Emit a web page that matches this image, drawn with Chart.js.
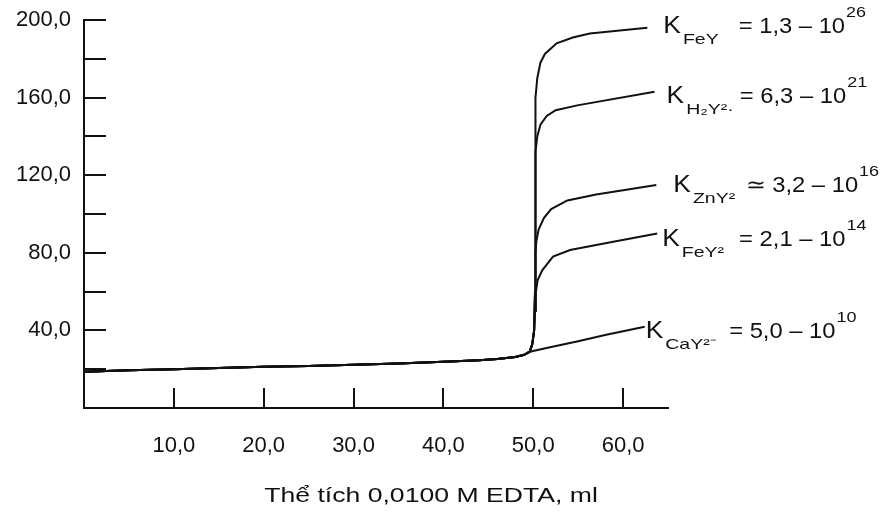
<!DOCTYPE html>
<html>
<head>
<meta charset="utf-8">
<script src="https://cdn.jsdelivr.net/npm/chart.js@4"></script>
<style>
  html, body { margin: 0; padding: 0; background: #fff; }
  #wrap { width: 891px; height: 515px; }
</style>
</head>
<body>
<div id="wrap"><canvas id="chart"></canvas></div>
<script>
// Phần chung trước điểm tương đương (thể tích EDTA, ml)
const preVol = [0, 5, 10, 15, 20, 25, 30, 35, 40, 44, 46, 48, 49, 49.6];
const preVal = [18.7, 19.4, 20, 20.6, 21.2, 21.7, 22.3, 23, 23.8, 24.6, 25.2, 26.3, 27.4, 29];

// Đoạn sau điểm tương đương cho từng phức chất
const feYVol = [49.9, 50.1, 50.2, 50.2, 50.25, 50.3, 50.45, 50.8, 51.3, 52.6, 54.4, 56.3, 62.7];
const feYVal = [33, 40, 60, 100, 140, 160, 170, 178, 182.5, 188, 191, 193, 196];

const h2YVol = [49.9, 50.1, 50.2, 50.2, 50.3, 50.45, 50.8, 51.5, 52.5, 54.9, 63.5];
const h2YVal = [33, 40, 60, 100, 132, 140, 146, 150.5, 153.5, 156, 163];

const znYVol = [49.9, 50.1, 50.2, 50.25, 50.35, 50.6, 51.2, 52, 53.8, 57, 63.7];
const znYVal = [33, 40, 60, 80, 86, 92, 98, 102.5, 107, 110, 115];

const fe2YVol = [49.9, 50.1, 50.2, 50.3, 50.5, 51, 52.2, 54.1, 58.9, 63.8];
const fe2YVal = [33, 40, 50, 60, 66, 71, 78, 81.4, 85.7, 90];

const caYVol = [52, 55, 58, 62.4];
const caYVal = [31.4, 34.4, 37.6, 41.9];

// Nhãn hằng số bền
const kSubs = ["FeY", "H₂Y²·", "ZnY²", "FeY²", "CaY²⁻"];
const kSigns = ["=", "=", "≃", "=", "="];
const kValues = ["1,3 – 10", "6,3 – 10", "3,2 – 10", "2,1 – 10", "5,0 – 10"];
const kExps = ["26", "21", "16", "14", "10"];

const axisTitle = "Thể tích 0,0100 M EDTA, ml";

// vị trí nhãn so với điểm cuối đường (px) và khoảng trước dấu "="
const labelOffset = [[16, 5], [12, 11], [17, 7], [5, 13], [1, 11]];
const signGap = [20, 6, 11, 15, 13];

const FONT = "'Liberation Sans', Arial, sans-serif";
const INK = "#111";

function makePoints(vx, vy) {
  const pts = preVol.map((v, i) => ({ x: v, y: preVal[i] }));
  vx.forEach((v, i) => pts.push({ x: v, y: vy[i] }));
  return pts;
}

const seriesList = [
  makePoints(feYVol, feYVal),
  makePoints(h2YVol, h2YVal),
  makePoints(znYVol, znYVal),
  makePoints(fe2YVol, fe2YVal),
  makePoints(caYVol, caYVal),
];

// chữ trong bản quét hơi bè ngang -> kéo giãn theo chiều x
function wideText(ctx, text, x, y, size, sx) {
  ctx.font = size + "px " + FONT;
  ctx.save();
  ctx.translate(x, y);
  ctx.scale(sx, 1);
  ctx.fillText(text, 0, 0);
  ctx.restore();
  return ctx.measureText(text).width * sx;
}

// Vạch chia hướng vào trong
const innerTicks = {
  id: "innerTicks",
  afterDraw(chart) {
    const { ctx } = chart;
    const x = chart.scales.x;
    const y = chart.scales.y;
    ctx.save();
    ctx.strokeStyle = INK;
    ctx.lineWidth = 2;
    ctx.beginPath();
    y.ticks.forEach((t) => {
      if (t.value === 0) return;
      const py = Math.round(y.getPixelForValue(t.value));
      ctx.moveTo(x.left, py);
      ctx.lineTo(x.left + 22, py);
    });
    x.ticks.forEach((t) => {
      if (t.value === 0) return;
      const px = Math.round(x.getPixelForValue(t.value));
      ctx.moveTo(px, y.bottom);
      ctx.lineTo(px, y.bottom - 20);
    });
    ctx.stroke();
    ctx.restore();
  },
};

// Nhãn K ở cuối mỗi đường và tiêu đề trục
const curveLabels = {
  id: "curveLabels",
  afterDraw(chart) {
    const { ctx } = chart;
    const x = chart.scales.x;
    const y = chart.scales.y;
    ctx.save();
    ctx.fillStyle = INK;
    ctx.textBaseline = "alphabetic";
    ctx.textAlign = "left";
    seriesList.forEach((pts, i) => {
      const last = pts[pts.length - 1];
      let px = x.getPixelForValue(last.x) + labelOffset[i][0];
      const base = y.getPixelForValue(last.y) + labelOffset[i][1];
      px += wideText(ctx, "K", px, base, 24, 1.1) + 2;
      px += wideText(ctx, kSubs[i], px, base + 11, 15, 1.3) + signGap[i];
      px += wideText(ctx, kSigns[i] + " " + kValues[i], px, base, 22, 1.08) + 1;
      wideText(ctx, kExps[i], px, base - 16, 15, 1.2);
    });
    ctx.textAlign = "center";
    wideText(ctx, axisTitle, 431, 502, 20, 1.33);
    ctx.restore();
  },
};

window.onload = () => {
  const ctx = document.getElementById("chart").getContext("2d");
  new Chart(ctx, {
    type: "line",
    data: {
      datasets: seriesList.map((pts) => ({
        data: pts,
        borderColor: INK,
        borderWidth: 2,
        pointRadius: 0,
        tension: 0,
        fill: false,
      })),
    },
    options: {
      responsive: true,
      maintainAspectRatio: false,
      animation: false,
      layout: { padding: { top: 20, right: 223, bottom: 0, left: 0 } },
      plugins: {
        legend: { display: false },
        tooltip: { enabled: false },
      },
      scales: {
        x: {
          type: "linear",
          min: 0,
          max: 65,
          afterFit: (s) => { s.height = 107; s.paddingLeft = 0; s.paddingRight = 0; },
          border: { color: INK, width: 2 },
          grid: { drawOnChartArea: false, drawTicks: false },
          ticks: {
            stepSize: 10,
            includeBounds: false,
            padding: 25,
            color: INK,
            font: { family: FONT, size: 22 },
            maxRotation: 0,
            callback: (v) => (v > 0 && v % 10 === 0 ? v.toFixed(1).replace(".", ",") : ""),
          },
        },
        y: {
          min: 0,
          max: 200,
          afterFit: (s) => { s.width = 84; s.paddingTop = 0; s.paddingBottom = 0; },
          border: { color: INK, width: 2 },
          grid: { drawOnChartArea: false, drawTicks: false },
          ticks: {
            stepSize: 20,
            padding: 13,
            color: INK,
            font: { family: FONT, size: 22 },
            callback: (v) => (v > 0 && v % 40 === 0 ? v.toFixed(1).replace(".", ",") : ""),
          },
        },
      },
    },
    plugins: [innerTicks, curveLabels],
  });
};
</script>
</body>
</html>
